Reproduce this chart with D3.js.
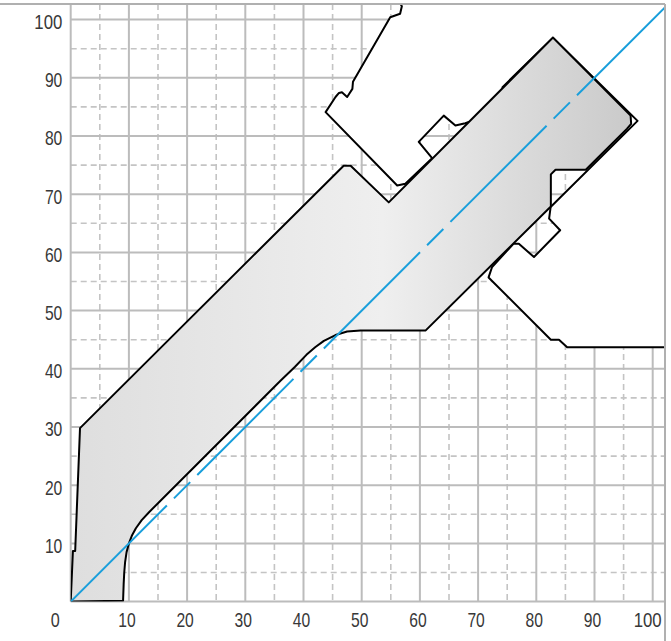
<!DOCTYPE html>
<html><head><meta charset="utf-8">
<script src="https://cdn.jsdelivr.net/npm/d3@7/dist/d3.min.js"></script>
<style>body{margin:0;background:#fff}svg{display:block}</style>
</head><body>
<script>
// ---- data ----
const xTickValues = [0,10,20,30,40,50,60,70,80,90,100];
const yTickValues = [10,20,30,40,50,60,70,80,90,100];
const majorGrid = [0,10,20,30,40,50,60,70,80,90,100];
const minorGrid = [5,15,25,35,45,55,65,75,85,95];

// grey operating region outline [x, y]
const grayShape = [
  [0,0],[0.38,8.7],[0.77,8.7],[1.6,29.8],[46.9,74.9],[48.1,74.9],[54.65,68.6],
  [82.86,96.9],[96.2,83.5],[96.3,82.1],[95.6,81.25],[88.5,74.2],[83.3,74.2],
  [82.5,73.4],[82.5,67.9],[61.0,46.6],[49.8,46.6],[47.5,46.4],[45.5,45.8],
  [43.5,44.8],[42.0,43.7],[40.5,42.4],[38.5,40.3],[36.0,37.9],[15.0,16.9],
  [13.5,15.4],[12.2,14.0],[11.2,12.6],[10.5,11.3],[10.0,10.0],[9.6,8.5],
  [9.35,6.8],[9.2,5.0],[9.1,3.0],[9.0,0.15]
];

// white (excluded) region outline [x, y]
const whiteShape = [
  [55.9,104],[56.9,102.3],[56.6,101.0],[54.9,100.4],[48.5,89.3],[48.4,88.1],
  [47.5,86.7],[46.6,87.5],[46.1,87.4],[45.5,86.7],[43.8,84.1],[56.1,71.5],
  [57.5,71.8],[62.1,76.2],[59.8,79.0],[64.1,83.5],[66.1,81.8],[67.8,82.2],
  [68.4,82.4],[73.3,82.4],[74.2,83.2],[74.2,88.4],[82.86,96.9],[97.4,82.6],
  [82.46,67.8],[82.2,65.8],[84.1,63.8],[79.6,59.2],[77.0,61.5],[76.1,61.5],
  [72.4,57.5],[71.8,55.7],[82.5,45.0],[83.9,45.0],[85.3,43.7],[110,43.7],
  [110,110],[55.9,110]
];

// reference diagonal
const diagonal = [[0,0],[104,104]];

// ---- chart ----
const W = 671, H = 641;
const svg = d3.select("body").append("svg").attr("width", W).attr("height", H);

const x = d3.scaleLinear().domain([0,100]).range([70.7,652.7]);
const y = d3.scaleLinear().domain([0,100]).range([601.6,19.6]);
const plotL = x(0), plotR = 665, plotT = 4, plotB = y(0);

const defs = svg.append("defs");
defs.append("clipPath").attr("id","plot").append("rect")
  .attr("x", plotL).attr("y", plotT).attr("width", plotR-plotL).attr("height", plotB-plotT);
const grad = defs.append("linearGradient").attr("id","gfill")
  .attr("gradientUnits","userSpaceOnUse")
  .attr("x1", x(0)).attr("x2", x(97.4)).attr("y1",0).attr("y2",0);
grad.append("stop").attr("offset","0%").attr("stop-color","#dedede");
grad.append("stop").attr("offset","55%").attr("stop-color","#efefef");
grad.append("stop").attr("offset","100%").attr("stop-color","#c9c9c9");

const gridColor = "#bcbcbc";
const grid = svg.append("g");
// minor dashed
grid.selectAll(".mvx").data(minorGrid).join("line")
  .attr("x1", d=>x(d)).attr("x2", d=>x(d)).attr("y1", plotT).attr("y2", plotB)
  .attr("stroke", "#c4c4c4").attr("stroke-width", 1.6).attr("stroke-dasharray","6,4");
grid.selectAll(".mhy").data(minorGrid).join("line")
  .attr("x1", plotL).attr("x2", plotR).attr("y1", d=>y(d)).attr("y2", d=>y(d))
  .attr("stroke", "#c4c4c4").attr("stroke-width", 1.6).attr("stroke-dasharray","6,4");
// major solid
grid.selectAll(".Mvx").data(majorGrid).join("line")
  .attr("x1", d=>x(d)).attr("x2", d=>x(d)).attr("y1", plotT).attr("y2", plotB)
  .attr("stroke", gridColor).attr("stroke-width", 2);
grid.selectAll(".Mhy").data(majorGrid).join("line")
  .attr("x1", plotL).attr("x2", plotR).attr("y1", d=>y(d)).attr("y2", d=>y(d))
  .attr("stroke", gridColor).attr("stroke-width", 2);

const line = d3.line().x(d=>x(d[0])).y(d=>y(d[1]));
const plot = svg.append("g").attr("clip-path","url(#plot)");

plot.append("path").attr("d", line(whiteShape) + "Z")
  .attr("fill","#fff").attr("stroke","#000").attr("stroke-width",2).attr("stroke-linejoin","round");
plot.append("path").attr("d", line(grayShape) + "Z")
  .attr("fill","url(#gfill)").attr("stroke","#000").attr("stroke-width",2).attr("stroke-linejoin","round");
plot.append("path").attr("d", line(diagonal))
  .attr("fill","none").attr("stroke","#1a9fdb").attr("stroke-width",2)
  .attr("stroke-dasharray","136,10,23,10");

// frame lines (top and right)
svg.append("line").attr("x1",0).attr("x2",plotR).attr("y1",plotT).attr("y2",plotT)
  .attr("stroke","#b0b0b0").attr("stroke-width",2);
svg.append("line").attr("x1",plotR).attr("x2",plotR).attr("y1",plotT).attr("y2",H)
  .attr("stroke","#b0b0b0").attr("stroke-width",2);

// labels (condensed look via textLength)
const font = "'Liberation Sans',Arial,sans-serif";
const labelW = d => ({1: 9, 2: 17.4, 3: 28})[String(d).length];
svg.append("g").selectAll("text").data(yTickValues).join("text")
  .attr("x", plotL - 8.4).attr("y", d=>y(d) + 9.4)
  .attr("text-anchor","end").attr("font-family",font).attr("font-size",21)
  .attr("textLength", labelW).attr("lengthAdjust","spacingAndGlyphs")
  .attr("fill","#383838").text(d=>d);
svg.append("g").selectAll("text").data(xTickValues).join("text")
  .attr("x", d=> d===0 ? x(d) - 15.5 : (d===100 ? x(d) - 5 : x(d) - 2))
  .attr("y", 627)
  .attr("text-anchor","middle").attr("font-family",font).attr("font-size",21)
  .attr("textLength", labelW).attr("lengthAdjust","spacingAndGlyphs")
  .attr("fill","#383838").text(d=>d);
</script>
</body></html>
